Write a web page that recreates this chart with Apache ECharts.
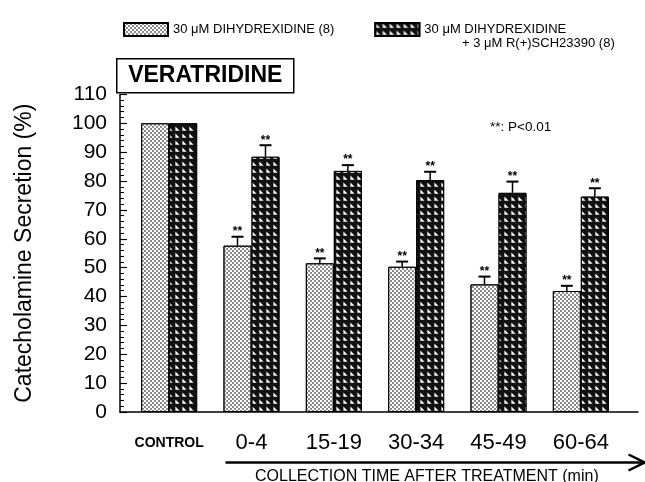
<!DOCTYPE html>
<html>
<head>
<meta charset="utf-8">
<script src="https://cdn.jsdelivr.net/npm/echarts@6/dist/echarts.min.js"></script>
<style>
html,body{margin:0;padding:0;background:#fff;}
#chart{width:645px;height:482px;}
</style>
</head>
<body>
<div id="chart"></div>
<script>
const categories = ['CONTROL', '0-4', '15-19', '30-34', '45-49', '60-64'];
const dhxValues = [100, 57.6, 51.5, 50.3, 44.2, 41.9];
const dhxErrors = [0, 3.1, 1.7, 1.8, 2.7, 1.8];
const schValues = [100, 88.4, 83.5, 80.3, 75.9, 74.6];
const schErrors = [0, 4.0, 2.0, 2.9, 3.9, 2.9];
const yMin = 0, yMax = 110, yInterval = 10;
const seriesNames = ['30 μM DIHYDREXIDINE (8)', '30 μM DIHYDREXIDINE'];
const legendSecondLine = '+ 3 μM R(+)SCH23390 (8)';
const panelTitle = 'VERATRIDINE';
const sigNote = '**: P<0.01';
const yTitle = 'Catecholamine Secretion (%)';
const xTitle = 'COLLECTION TIME AFTER TREATMENT (min)';

const FONT = 'Liberation Sans, Arial, Helvetica, sans-serif';
const BAR_W = 28;

const lightDecal = {
  symbol: 'rect', symbolSize: 1, color: '#8c8c8c',
  dashArrayX: [[2, 2], [0, 2, 2, 0]], dashArrayY: [2, 0], rotation: 0
};
const darkDecal = {
  symbol: 'path://M0,0L0,10L10,10Z', symbolSize: 0.85, color: '#ffffff',
  dashArrayX: [5, 2], dashArrayY: [5, 2], rotation: 0
};

function errRender(sign) {
  return function (params, api) {
    const i = api.value(0), v = api.value(1), e = api.value(2);
    if (!e) return null;
    const base = api.coord([i, v]);
    const top = api.coord([i, v + e]);
    const x = base[0] + sign * BAR_W / 2;
    return {
      type: 'group',
      children: [
        {type: 'line', shape: {x1: x, y1: base[1], x2: x, y2: top[1]}, style: {stroke: '#000', lineWidth: 1.5}},
        {type: 'line', shape: {x1: x - 6, y1: top[1], x2: x + 6, y2: top[1]}, style: {stroke: '#000', lineWidth: 2}},
        {type: 'text', style: {text: '**', x: x, y: top[1] + 1, align: 'center', verticalAlign: 'bottom',
          fontSize: 12, fontWeight: 'bold', fill: '#000', fontFamily: FONT}}
      ]
    };
  };
}

const chart = echarts.init(document.getElementById('chart'), null, {renderer: 'canvas'});
const option = {
  backgroundColor: '#fff',
  animation: false,
  textStyle: {fontFamily: FONT, color: '#000'},
  legend: {
    left: 118, top: 17, itemWidth: 44, itemHeight: 13, itemGap: 40,
    icon: 'rect', selectedMode: false,
    textStyle: {fontSize: 13, color: '#000', fontFamily: FONT},
    data: seriesNames
  },
  grid: [
    {left: 120, right: 7, top: 94.4, bottom: 70},
    {left: 128, right: 23, top: 94.4, bottom: 70}
  ],
  xAxis: [
    {gridIndex: 0, type: 'value', min: 0, max: 1, axisLine: {show: true, lineStyle: {color: '#000', width: 1.5}},
     axisTick: {show: false}, axisLabel: {show: false}, splitLine: {show: false}},
    {gridIndex: 1, type: 'category', data: categories, axisLine: {show: false}, axisTick: {show: false},
     axisLabel: {
       interval: 0, margin: 19, color: '#000', hideOverlap: false,
       formatter: function (v, i) { return i === 0 ? '{s|' + v + '}' : '{b|' + v + '}'; },
       rich: {
         s: {fontSize: 14, fontWeight: 'bold', lineHeight: 24, fontFamily: FONT, color: '#000'},
         b: {fontSize: 22, lineHeight: 24, fontFamily: FONT, color: '#000'}
       }
     }}
  ],
  yAxis: [
    {gridIndex: 0, type: 'value', min: yMin, max: yMax, interval: yInterval,
     name: yTitle, nameLocation: 'middle', nameGap: 84, nameRotate: 90,
     nameTextStyle: {fontSize: 23, color: '#000', fontFamily: FONT},
     axisLine: {show: true, lineStyle: {color: '#000', width: 1.5}},
     axisTick: {show: true, inside: true, length: 7, lineStyle: {color: '#000', width: 1.2}},
     minorTick: {show: true, splitNumber: 5, length: 4, lineStyle: {color: '#000', width: 1}},
     axisLabel: {fontSize: 21, color: '#000', margin: 13, fontFamily: FONT},
     splitLine: {show: false}},
    {gridIndex: 1, type: 'value', min: yMin, max: yMax, interval: yInterval, show: false}
  ],
  series: [
    {name: seriesNames[0], type: 'bar', xAxisIndex: 1, yAxisIndex: 1, data: dhxValues,
     barWidth: BAR_W, barGap: '0%',
     itemStyle: {color: '#ffffff', borderColor: '#000', borderWidth: 1, decal: lightDecal}},
    {name: seriesNames[1], type: 'bar', xAxisIndex: 1, yAxisIndex: 1, data: schValues,
     barWidth: BAR_W, barGap: '0%',
     itemStyle: {color: '#111111', borderColor: '#000', borderWidth: 1, decal: darkDecal}},
    {type: 'custom', xAxisIndex: 1, yAxisIndex: 1, renderItem: errRender(-1),
     data: categories.map((c, i) => [i, dhxValues[i], dhxErrors[i]]), z: 5},
    {type: 'custom', xAxisIndex: 1, yAxisIndex: 1, renderItem: errRender(1),
     data: categories.map((c, i) => [i, schValues[i], schErrors[i]]), z: 5}
  ],
  graphic: [
    {type: 'text', left: 462, top: 37, style: {text: legendSecondLine, fontSize: 13, fill: '#000', fontFamily: FONT}},
    {type: 'group', left: 116, top: 58, children: [
      {type: 'rect', shape: {x: 0, y: 0, width: 177, height: 34}, style: {fill: '#fff', stroke: '#000', lineWidth: 1.5}},
      {type: 'text', x: 88.5, y: 17, style: {text: panelTitle, fontSize: 23, fontWeight: 'bold', fill: '#000',
        align: 'center', verticalAlign: 'middle', fontFamily: FONT}}
    ]},
    {type: 'text', left: 490, top: 120, style: {text: sigNote, fontSize: 13.5, fill: '#000', fontFamily: FONT}},
    {type: 'group', left: 223, top: 452, children: [
      {type: 'line', shape: {x1: 0, y1: 8, x2: 418, y2: 8}, style: {stroke: '#000', lineWidth: 2.5}},
      {type: 'polyline', shape: {points: [[403, 0], [419, 8], [403, 16]]}, style: {stroke: '#000', lineWidth: 2.5, fill: null}}
    ]},
    {type: 'text', left: 255, top: 469, style: {text: xTitle, fontSize: 16, fill: '#000', fontFamily: FONT}}
  ]
};
chart.setOption(option);
</script>
</body>
</html>
